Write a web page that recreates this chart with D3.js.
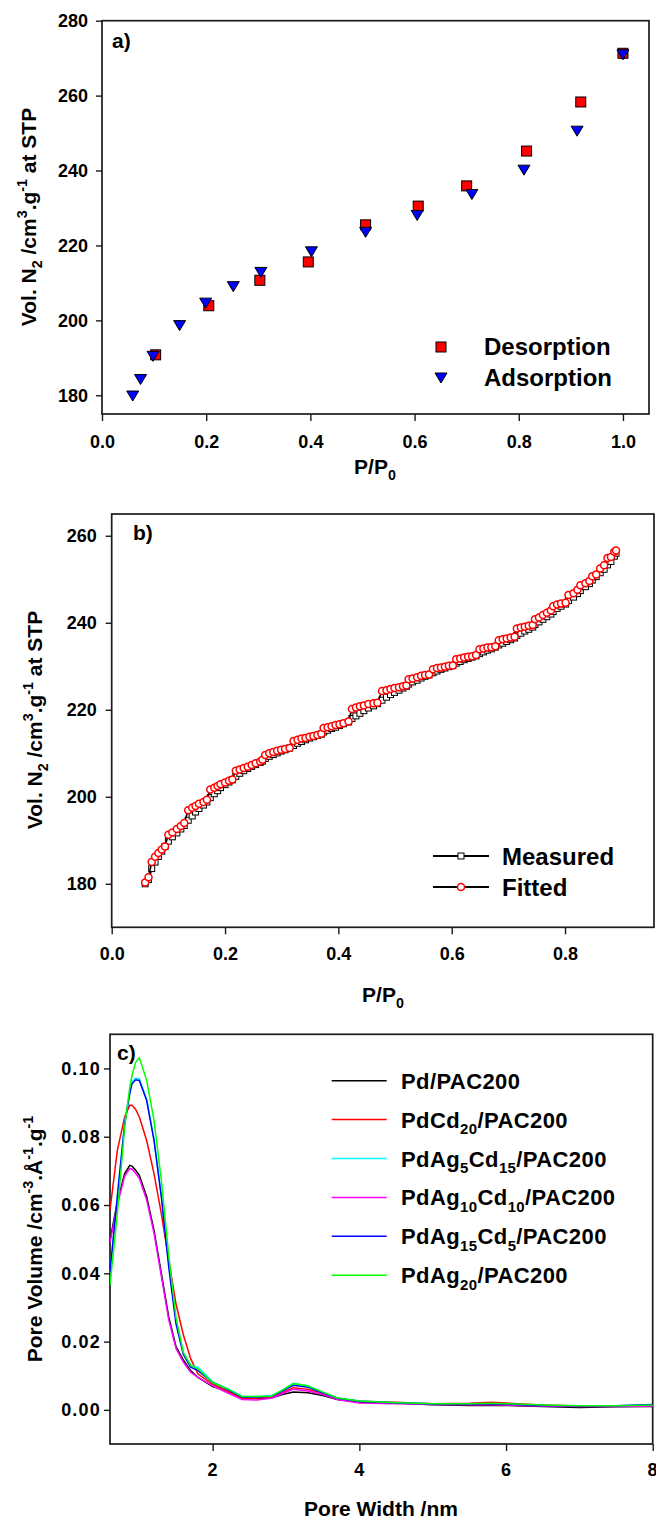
<!DOCTYPE html>
<html lang="en">

<head>
    <meta charset="UTF-8">
    <title>N2 isotherms and pore size distribution</title>
    <script src="https://d3js.org/d3.v7.min.js"></script>
    <style>
        body {
            margin: 0;
            background: #fff;
        }

        svg text {
            font-family: "Liberation Sans", Arial, sans-serif;
            font-weight: bold;
            fill: #000;
        }
    </style>
</head>

<body>
    <div id="chart"></div>

    <script>
        // panel a: isotherm points
        const desorbP = [0.103, 0.205, 0.303, 0.396, 0.506, 0.607, 0.700, 0.815, 0.919, 1.000];
        const desorbV = [190.8, 203.9, 210.7, 215.6, 225.5, 230.5, 235.9, 245.2, 258.3, 271.3];
        const adsorbP = [0.059, 0.074, 0.098, 0.149, 0.199, 0.252, 0.305, 0.402, 0.506, 0.605, 0.710, 0.810, 0.912, 1.000];
        const adsorbV = [179.8, 184.2, 190.4, 198.6, 204.6, 209.0, 212.8, 218.3, 223.5, 228.0, 233.6, 240.1, 250.5, 270.9];

        // panel b: measured vs fitted
        const fitP = [0.059, 0.065, 0.0706, 0.0765, 0.0824, 0.0883, 0.0941, 0.100, 0.107, 0.115, 0.122, 0.128,
            0.135, 0.142, 0.148, 0.154, 0.162, 0.168, 0.174, 0.181, 0.187, 0.192, 0.200, 0.207, 0.213,
            0.219, 0.226, 0.233, 0.240, 0.247, 0.254, 0.262, 0.266, 0.271, 0.278, 0.285, 0.292, 0.299, 0.306, 0.314,
            0.321, 0.328, 0.335, 0.342, 0.349, 0.356, 0.363, 0.370, 0.374, 0.381, 0.388, 0.395, 0.402, 0.409, 0.418,
            0.424, 0.431, 0.438, 0.445, 0.453, 0.462, 0.469, 0.477, 0.485, 0.492, 0.499, 0.507, 0.514, 0.520,
            0.524, 0.531, 0.539, 0.546, 0.553, 0.560, 0.567, 0.574, 0.581, 0.588, 0.595, 0.602,
            0.608, 0.615, 0.622, 0.629, 0.636, 0.643, 0.649, 0.656, 0.663, 0.670, 0.677,
            0.683, 0.690, 0.697, 0.704, 0.711, 0.715, 0.722, 0.729, 0.736, 0.743,
            0.747, 0.754, 0.761, 0.768, 0.775, 0.779, 0.786, 0.793, 0.801,
            0.806, 0.815, 0.822, 0.827, 0.836, 0.843, 0.848, 0.855, 0.862, 0.869, 0.875, 0.881, 0.887, 0.890];
        const fitV = [180.3, 181.5, 185.0, 186.2, 187.1, 187.9, 188.6, 191.3, 191.8, 192.6, 193.3, 194.0,
            196.9, 197.5, 197.9, 198.4, 198.8, 199.3, 201.7, 202.1, 202.5, 202.9, 203.3, 203.7, 204.0,
            206.0, 206.3, 206.6, 206.9, 207.3, 207.7, 208.1, 208.5, 209.6, 210.0, 210.3, 210.6, 210.8, 211.0, 211.2,
            212.8, 213.1, 213.4, 213.5, 213.8, 214.0, 214.2, 214.5, 215.8, 216.0, 216.2, 216.5, 216.7, 216.9, 217.3,
            220.2, 220.5, 220.8, 221.0, 221.3, 221.5, 221.6, 224.3, 224.5, 224.8, 225.0, 225.2, 225.4, 225.6,
            227.0, 227.2, 227.5, 227.8, 228.0, 228.1, 229.3, 229.6, 229.7, 229.9, 230.1, 230.2,
            231.6, 231.8, 232.0, 232.2, 232.3, 232.6, 233.9, 234.1, 234.3, 234.4, 234.6,
            236.0, 236.2, 236.4, 236.6, 236.8, 238.7, 238.9, 239.1, 239.3, 239.5,
            240.8, 241.2, 241.8, 242.3, 242.8, 243.8, 244.2, 244.4, 244.6,
            246.4, 246.8, 247.6, 248.6, 249.1, 249.6, 250.7, 251.1, 252.5, 253.2, 254.9, 255.1, 256.3, 256.6];
        const measV = [180.0, 181.0, 183.5, 185.0, 186.3, 187.5, 188.6, 189.8, 190.8, 191.7, 192.6, 193.4,
            194.6, 195.6, 196.5, 197.3, 198.1, 198.8, 199.8, 200.7, 201.4, 202.1, 202.8, 203.4, 203.9,
            204.7, 205.4, 206.0, 206.5, 207.0, 207.4, 207.9, 208.2, 208.8, 209.3, 209.7, 210.1, 210.5, 210.8, 211.2,
            211.8, 212.3, 212.7, 213.1, 213.5, 213.8, 214.1, 214.4, 214.9, 215.3, 215.7, 216.0, 216.4, 216.8, 217.2,
            218.0, 218.6, 219.2, 219.8, 220.4, 220.9, 221.4, 222.2, 222.9, 223.5, 224.0, 224.5, 225.0, 225.4,
            225.9, 226.4, 226.8, 227.3, 227.7, 228.0, 228.5, 228.9, 229.3, 229.6, 229.9, 230.2,
            230.7, 231.1, 231.5, 231.8, 232.1, 232.4, 232.9, 233.3, 233.7, 234.0, 234.4,
            234.9, 235.3, 235.7, 236.1, 236.5, 237.1, 237.6, 238.1, 238.5, 239.0,
            239.6, 240.2, 240.8, 241.4, 242.0, 242.6, 243.3, 243.8, 244.3,
            245.1, 245.9, 246.7, 247.4, 248.3, 249.0, 249.8, 250.6, 251.5, 252.3, 253.3, 254.1, 255.3, 256.0];

        // panel c: pore size distribution
        const poreWidth = [0.6, 0.7, 0.8, 0.87, 0.9, 0.95, 1.0, 1.1, 1.2, 1.3, 1.4, 1.5, 1.6, 1.7, 1.8, 2.0, 2.2, 2.4,
            2.6, 2.8, 2.95, 3.1, 3.3, 3.5, 3.7, 4.0, 4.5, 5.0, 5.5, 5.8, 6.0, 6.5, 7.0, 7.5, 8.0];
        const pvPd = [0.0497, 0.0609, 0.0692, 0.0716, 0.0714, 0.0702, 0.0687, 0.0624, 0.0526, 0.0400, 0.0273, 0.0185,
            0.0146, 0.0115, 0.0095, 0.0068, 0.0055, 0.0035, 0.0033, 0.0035, 0.0045, 0.0052, 0.0050, 0.0042, 0.0030,
            0.0022, 0.0020, 0.0015, 0.0013, 0.0013, 0.0013, 0.0010, 0.0007, 0.0009, 0.0010];
        const pvPdCd20 = [0.0585, 0.0760, 0.0858, 0.0892, 0.0892, 0.0880, 0.0858, 0.0789, 0.0692, 0.0575, 0.0440, 0.0310,
            0.0220, 0.0150, 0.0105, 0.0075, 0.0055, 0.0034, 0.0034, 0.0038, 0.0050, 0.0065, 0.0060, 0.0048, 0.0034,
            0.0025, 0.0022, 0.0018, 0.0019, 0.0022, 0.0020, 0.0014, 0.0011, 0.0012, 0.0012];
        const pvAg5Cd15 = [0.0400, 0.0626, 0.0842, 0.0932, 0.0960, 0.0972, 0.0970, 0.0910, 0.0793, 0.0628, 0.0432, 0.0262,
            0.0168, 0.0130, 0.0125, 0.0082, 0.0062, 0.0040, 0.0039, 0.0041, 0.0058, 0.0078, 0.0071, 0.0052, 0.0035,
            0.0026, 0.0021, 0.0018, 0.0018, 0.0018, 0.0017, 0.0013, 0.0012, 0.0012, 0.0013];
        const pvAg10Cd10 = [0.0490, 0.0600, 0.0685, 0.0707, 0.0705, 0.0693, 0.0678, 0.0615, 0.0518, 0.0392, 0.0265, 0.0180,
            0.0140, 0.0110, 0.0095, 0.0070, 0.0050, 0.0030, 0.0029, 0.0034, 0.0048, 0.0060, 0.0055, 0.0045, 0.0030,
            0.0020, 0.0018, 0.0016, 0.0015, 0.0015, 0.0014, 0.0011, 0.0010, 0.0010, 0.0011];
        const pvAg15Cd5 = [0.0404, 0.0624, 0.0838, 0.0926, 0.0955, 0.0967, 0.0965, 0.0906, 0.0789, 0.0624, 0.0420, 0.0252,
            0.0162, 0.0125, 0.0115, 0.0080, 0.0060, 0.0038, 0.0038, 0.0040, 0.0055, 0.0072, 0.0066, 0.0050, 0.0034,
            0.0025, 0.0020, 0.0017, 0.0017, 0.0017, 0.0017, 0.0013, 0.0012, 0.0012, 0.0016];
        const pvAg20 = [0.0365, 0.0575, 0.0828, 0.0945, 0.0980, 0.1018, 0.1031, 0.0965, 0.0848, 0.0673, 0.0455, 0.0270,
            0.0168, 0.0130, 0.0120, 0.0080, 0.0062, 0.0039, 0.0039, 0.0040, 0.0058, 0.0077, 0.0070, 0.0052, 0.0035,
            0.0026, 0.0021, 0.0018, 0.0018, 0.0019, 0.0018, 0.0014, 0.0012, 0.0012, 0.0014];
        const psdSeries = [pvPd, pvPdCd20, pvAg5Cd15, pvAg10Cd10, pvAg15Cd5, pvAg20];
        const psdLabels = ['Pd/PAC200', 'PdCd_{20}/PAC200', 'PdAg_{5}Cd_{15}/PAC200', 'PdAg_{10}Cd_{10}/PAC200',
            'PdAg_{15}Cd_{5}/PAC200', 'PdAg_{20}/PAC200'];
        const psdColors = ['#000000', '#ff0000', '#00ffff', '#ff00ff', '#0000ff', '#00ff00'];

        const width = 656;
        const height = 1519;

        const svg = d3.select('#chart')
            .append('svg')
            .attr('width', width)
            .attr('height', height);

        // text with _{sub} and ^{sup} markup
        function richText(text, str, size) {
            const parts = str.split(/(_\{[^}]*\}|\^\{[^}]*\})/).filter(s => s.length);
            let shift = 0;
            parts.forEach(p => {
                let kind = '';
                let s = p;
                if (p.startsWith('_{')) { kind = 'sub'; s = p.slice(2, -1); }
                if (p.startsWith('^{')) { kind = 'sup'; s = p.slice(2, -1); }
                const target = kind === 'sub' ? size * 0.3 : kind === 'sup' ? -size * 0.42 : 0;
                text.append('tspan')
                    .attr('dy', target - shift)
                    .attr('font-size', kind ? size * 0.68 : size)
                    .text(s);
                shift = target;
            });
            return text;
        }

        function drawFrame(g, x, y, opt) {
            const [x0, x1] = x.range();
            const [y0, y1] = y.range();
            g.append('rect')
                .attr('x', x0).attr('y', y1)
                .attr('width', x1 - x0).attr('height', y0 - y1)
                .attr('fill', 'none')
                .attr('stroke', '#1a1a1a')
                .attr('stroke-width', 1.7);

            const xa = g.append('g')
                .attr('transform', `translate(0,${y0})`)
                .call(d3.axisBottom(x).tickValues(opt.xTicks).tickFormat(opt.xFmt)
                    .tickSize(7).tickSizeOuter(0).tickPadding(opt.xPad));
            const ya = g.append('g')
                .attr('transform', `translate(${x0},0)`)
                .call(d3.axisLeft(y).tickValues(opt.yTicks).tickFormat(opt.yFmt)
                    .tickSize(6).tickSizeOuter(0).tickPadding(opt.yPad));
            [xa, ya].forEach(a => {
                a.select('.domain').remove();
                a.selectAll('line').attr('stroke', '#1a1a1a').attr('stroke-width', 1.4);
                a.selectAll('text')
                    .attr('font-size', 18)
                    .attr('letter-spacing', opt.spacing || 0)
                    .attr('font-family', '"Liberation Sans", Arial, sans-serif');
            });
        }

        // ---------- panel a ----------
        const ax = d3.scaleLinear().domain([0, 1.05]).range([102, 649]);
        const ay = d3.scaleLinear().domain([175, 280]).range([414, 20.7]);
        const ga = svg.append('g');
        drawFrame(ga, ax, ay, {
            xTicks: [0, 0.2, 0.4, 0.6, 0.8, 1.0], xFmt: d3.format('.1f'), xPad: 14,
            yTicks: [180, 200, 220, 240, 260, 280], yFmt: d3.format('d'), yPad: 8
        });

        const triPath = 'M-6,-5L6,-5L0,5Z';

        ga.append('g')
            .selectAll('rect')
            .data(desorbP)
            .join('rect')
            .attr('x', d => ax(d) - 5)
            .attr('y', (d, i) => ay(desorbV[i]) - 5)
            .attr('width', 10)
            .attr('height', 10)
            .attr('fill', '#ff0000')
            .attr('stroke', '#000')
            .attr('stroke-width', 1);

        ga.append('g')
            .selectAll('path')
            .data(adsorbP)
            .join('path')
            .attr('d', triPath)
            .attr('transform', (d, i) => `translate(${ax(d)},${ay(adsorbV[i])})`)
            .attr('fill', '#0000ff')
            .attr('stroke', '#000')
            .attr('stroke-width', 1);

        ga.append('text').attr('x', 112).attr('y', 48).attr('font-size', 21).text('a)');

        // legend a
        ga.append('rect').attr('x', 436).attr('y', 342).attr('width', 10).attr('height', 10)
            .attr('fill', '#ff0000').attr('stroke', '#000');
        ga.append('path').attr('d', triPath).attr('transform', 'translate(441,378)')
            .attr('fill', '#0000ff').attr('stroke', '#000');
        ga.append('text').attr('x', 484).attr('y', 355).attr('font-size', 24).text('Desorption');
        ga.append('text').attr('x', 484).attr('y', 386).attr('font-size', 24).text('Adsorption');

        richText(ga.append('text').attr('text-anchor', 'middle')
            .attr('transform', 'translate(36,217) rotate(-90)'), 'Vol. N_{2} /cm^{3}.g^{-1} at STP', 21);
        richText(ga.append('text').attr('text-anchor', 'middle')
            .attr('x', 375).attr('y', 474), 'P/P_{0}', 21);

        // ---------- panel b ----------
        const bx = d3.scaleLinear().domain([0, 0.957]).range([111.7, 654]);
        const by = d3.scaleLinear().domain([170, 265]).range([927.3, 514]);
        const gb = svg.append('g');
        drawFrame(gb, bx, by, {
            xTicks: [0, 0.2, 0.4, 0.6, 0.8], xFmt: d3.format('.1f'), xPad: 13,
            yTicks: [180, 200, 220, 240, 260], yFmt: d3.format('d'), yPad: 9
        });

        const line = d3.line();
        gb.append('path')
            .attr('d', line(fitP.map((p, i) => [bx(p), by(measV[i])])))
            .attr('fill', 'none').attr('stroke', '#000').attr('stroke-width', 2);
        gb.append('g')
            .selectAll('rect')
            .data(fitP)
            .join('rect')
            .attr('x', d => bx(d) - 3)
            .attr('y', (d, i) => by(measV[i]) - 3)
            .attr('width', 6).attr('height', 6)
            .attr('fill', '#fff').attr('stroke', '#000').attr('stroke-width', 1);
        gb.append('path')
            .attr('d', line(fitP.map((p, i) => [bx(p), by(fitV[i])])))
            .attr('fill', 'none').attr('stroke', '#000').attr('stroke-width', 1.6);
        gb.append('g')
            .selectAll('circle')
            .data(fitP)
            .join('circle')
            .attr('cx', d => bx(d))
            .attr('cy', (d, i) => by(fitV[i]))
            .attr('r', 3.5)
            .attr('fill', '#fff').attr('stroke', '#ff0000').attr('stroke-width', 1.5);

        gb.append('text').attr('x', 133).attr('y', 540).attr('font-size', 21).text('b)');

        // legend b
        [856, 887].forEach((ly, i) => {
            gb.append('line').attr('x1', 433).attr('x2', 489).attr('y1', ly).attr('y2', ly)
                .attr('stroke', '#000').attr('stroke-width', 1.8);
            if (i === 0) {
                gb.append('rect').attr('x', 458).attr('y', ly - 3).attr('width', 6).attr('height', 6)
                    .attr('fill', '#fff').attr('stroke', '#000');
            } else {
                gb.append('circle').attr('cx', 461).attr('cy', ly).attr('r', 3.5)
                    .attr('fill', '#fff').attr('stroke', '#ff0000').attr('stroke-width', 1.5);
            }
        });
        gb.append('text').attr('x', 502).attr('y', 865).attr('font-size', 24).text('Measured');
        gb.append('text').attr('x', 502).attr('y', 896).attr('font-size', 24).text('Fitted');

        richText(gb.append('text').attr('text-anchor', 'middle')
            .attr('transform', 'translate(42,720) rotate(-90)'), 'Vol. N_{2} /cm^{3}.g^{-1} at STP', 21);
        richText(gb.append('text').attr('text-anchor', 'middle')
            .attr('x', 383).attr('y', 1002), 'P/P_{0}', 21);

        // ---------- panel c ----------
        const cx = d3.scaleLinear().domain([0.6, 8]).range([110, 652.7]);
        const cy = d3.scaleLinear().domain([-0.01, 0.11]).range([1444, 1034.3]);
        const gc = svg.append('g');
        drawFrame(gc, cx, cy, {
            xTicks: [2, 4, 6, 8], xFmt: d3.format('d'), xPad: 12,
            yTicks: [0, 0.02, 0.04, 0.06, 0.08, 0.10], yFmt: d3.format('.2f'), yPad: 3, spacing: 1.2
        });

        gc.append('clipPath').attr('id', 'clipc').append('rect')
            .attr('x', 110).attr('y', 1034.3).attr('width', 542.7).attr('height', 409.7);

        const psdLine = d3.line().x((d, i) => cx(poreWidth[i])).y(d => cy(d));
        gc.append('g')
            .attr('clip-path', 'url(#clipc)')
            .selectAll('path')
            .data(psdSeries)
            .join('path')
            .attr('d', d => psdLine(d))
            .attr('fill', 'none')
            .attr('stroke', (d, i) => psdColors[i])
            .attr('stroke-width', 1.5);

        gc.append('text').attr('x', 117).attr('y', 1060).attr('font-size', 21).text('c)');

        // legend c
        psdLabels.forEach((lab, i) => {
            const ly = 1080.7 + i * 38.9;
            gc.append('line').attr('x1', 331.7).attr('x2', 386.7).attr('y1', ly).attr('y2', ly)
                .attr('stroke', psdColors[i]).attr('stroke-width', 1.5);
            richText(gc.append('text').attr('x', 401).attr('y', ly + 8).attr('letter-spacing', 0.4), lab, 22);
        });

        richText(gc.append('text').attr('text-anchor', 'middle')
            .attr('transform', 'translate(42,1239) rotate(-90)'), 'Pore Volume /cm^{-3}.Å^{-1}.g^{-1}', 21);
        gc.append('text').attr('text-anchor', 'middle').attr('x', 381).attr('y', 1516)
            .attr('font-size', 21).text('Pore Width /nm');
    </script>
</body>

</html>
